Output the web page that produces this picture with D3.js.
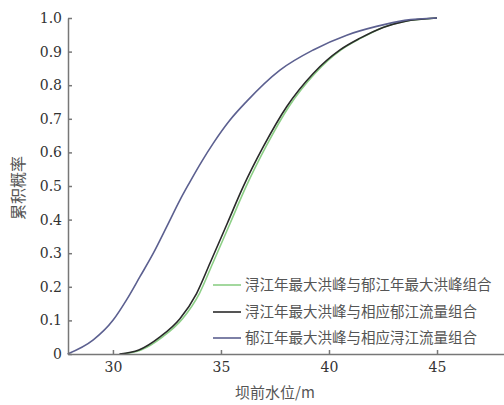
<!DOCTYPE html>
<head>
    <meta charset="UTF-8">
    <title>累积概率曲线</title>
</head>
<style>
    body { margin: 0; background: #fff; }
    .axis .domain, .axis .tick line { stroke: #777; stroke-width: 1.5; }
    .axis text { font-size: 14px; fill: #333; }
    .label { font-family: "Noto Sans CJK SC", sans-serif; fill: #555; }
</style>
<body>
<script src="https://d3js.org/d3.v7.min.js"></script>
<script>
    // 数据：坝前水位 (m) 与累积概率
    var seriesNames = [
        "浔江年最大洪峰与郁江年最大洪峰组合",
        "浔江年最大洪峰与相应郁江流量组合",
        "郁江年最大洪峰与相应浔江流量组合"
    ];
    var seriesColors = ["#8ccf86", "#2a2a2a", "#5c6090"];

    var levelGreen = [30.4, 31.3, 32.3, 33.22, 34.0, 34.62, 35.43, 36.16, 37.08, 38.14, 39.35, 40.56, 41.48, 42.5, 43.5, 45.0];
    var probGreen  = [0, 0.012, 0.051, 0.105, 0.18, 0.27, 0.39, 0.498, 0.617, 0.736, 0.835, 0.905, 0.94, 0.972, 0.99, 1.0];

    var levelBlack = [30.3, 31.2, 32.18, 33.1, 33.87, 34.49, 35.3, 36.03, 36.96, 38.04, 39.27, 40.51, 41.44, 42.5, 43.5, 45.0];
    var probBlack  = [0, 0.012, 0.051, 0.105, 0.18, 0.27, 0.39, 0.498, 0.617, 0.736, 0.835, 0.905, 0.94, 0.972, 0.99, 1.0];

    var levelBlue = [27.9, 29.09, 30.01, 30.63, 31.25, 31.87, 32.49, 33.1, 33.5, 34.1, 34.64, 35.4, 36.19, 37.73, 39.27, 40.82, 42.2, 43.5, 45.0];
    var probBlue  = [0, 0.042, 0.101, 0.161, 0.23, 0.30, 0.379, 0.458, 0.505, 0.572, 0.627, 0.695, 0.752, 0.845, 0.905, 0.949, 0.975, 0.993, 1.0];

    var xTicks = [30, 35, 40, 45];
    var yTicks = [0, 0.1, 0.2, 0.3, 0.4, 0.5, 0.6, 0.7, 0.8, 0.9, 1.0];

    var width = 504, height = 405;
    var x = d3.scaleLinear().domain([27.92, 48.1]).range([68, 504]);
    var y = d3.scaleLinear().domain([0, 1]).range([354, 18]);

    var svg = d3.select("body").append("svg")
        .attr("width", width)
        .attr("height", height);

    var series = [
        {name: seriesNames[0], color: seriesColors[0], data: d3.zip(levelGreen, probGreen)},
        {name: seriesNames[1], color: seriesColors[1], data: d3.zip(levelBlack, probBlack)},
        {name: seriesNames[2], color: seriesColors[2], data: d3.zip(levelBlue, probBlue)}
    ];

    var line = d3.line()
        .x(function(d) { return x(d[0]); })
        .y(function(d) { return y(d[1]); })
        .curve(d3.curveMonotoneX);

    svg.selectAll(".curve")
        .data(series)
        .enter().append("path")
        .attr("class", "curve")
        .attr("fill", "none")
        .attr("stroke", function(d) { return d.color; })
        .attr("stroke-width", 1.6)
        .attr("d", function(d) { return line(d.data); });

    svg.append("g")
        .attr("class", "axis")
        .attr("transform", "translate(0,354)")
        .call(d3.axisBottom(x).tickValues(xTicks).tickSizeInner(-4).tickSizeOuter(0).tickPadding(8))
        .attr("font-family", "DejaVu Serif");

    svg.append("g")
        .attr("class", "axis")
        .attr("transform", "translate(68,0)")
        .call(d3.axisLeft(y).tickValues(yTicks).tickSizeInner(-4).tickSizeOuter(0).tickPadding(6)
            .tickFormat(function(d) { return d === 0 ? "0" : d3.format(".1f")(d); }))
        .attr("font-family", "DejaVu Serif");

    // 图例
    var rows = svg.append("g").selectAll("g")
        .data(series)
        .enter().append("g")
        .attr("transform", function(d, i) { return "translate(0," + [285, 312, 338][i] + ")"; });
    rows.append("line")
        .attr("x1", 213).attr("x2", 241)
        .attr("stroke", function(d) { return d.color; })
        .attr("stroke-width", 1.6);
    rows.append("text")
        .attr("class", "label")
        .attr("x", 245)
        .attr("dy", "0.35em")
        .style("font-size", "14.5px")
        .text(function(d) { return d.name; });

    svg.append("text")
        .attr("class", "label")
        .attr("x", 275).attr("y", 393)
        .attr("text-anchor", "middle")
        .attr("dy", "0.35em")
        .style("font-size", "15px")
        .text("坝前水位/m");

    svg.append("text")
        .attr("class", "label")
        .attr("transform", "translate(18,188) rotate(-90)")
        .attr("text-anchor", "middle")
        .attr("dy", "0.35em")
        .style("font-size", "16px")
        .text("累积概率");
</script>
</body>
